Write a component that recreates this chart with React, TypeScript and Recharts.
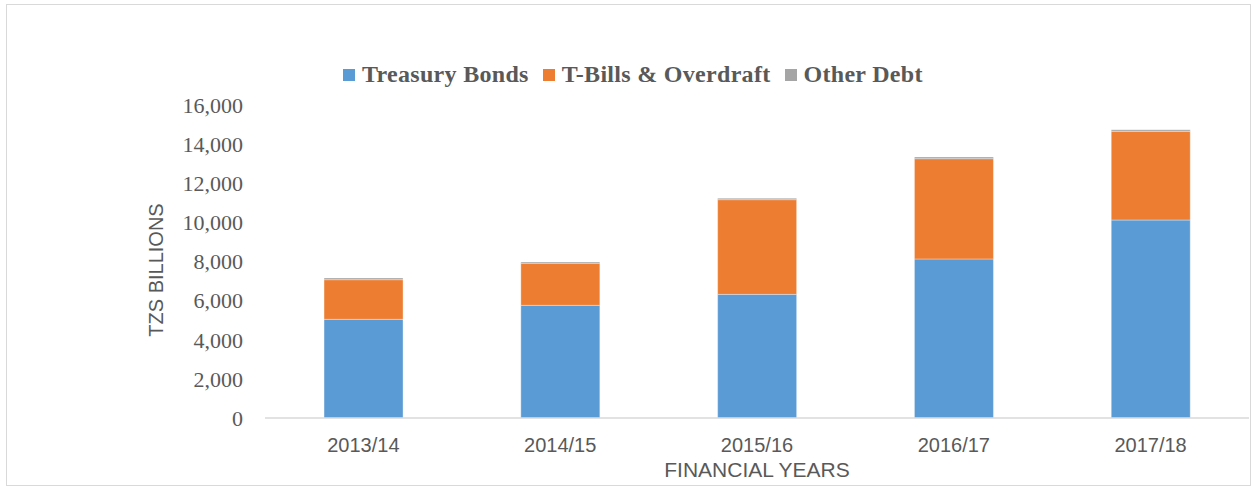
import React from "react";
import { BarChart, Bar, XAxis, YAxis, Label } from "recharts";

const years = ["2013/14", "2014/15", "2015/16", "2016/17", "2017/18"];
const treasuryBonds = [5045, 5760, 6320, 8130, 10120];
const tBillsOverdraft = [2025, 2150, 4840, 5125, 4535];
const otherDebt = [90, 70, 75, 90, 85];
const yTicks = [0, 2000, 4000, 6000, 8000, 10000, 12000, 14000, 16000];

const SERIES = [
  { key: "bonds", name: "Treasury Bonds", color: "#5B9BD5" },
  { key: "tbills", name: "T-Bills & Overdraft", color: "#ED7D31" },
  { key: "other", name: "Other Debt", color: "#A5A5A5" },
];

const data = years.map((year, i) => ({
  year,
  bonds: treasuryBonds[i],
  tbills: tBillsOverdraft[i],
  other: otherDebt[i],
}));

const TEXT = "#595959";
const SANS = "'Liberation Sans', Arial, sans-serif";
const SERIF = "'Liberation Serif', 'Times New Roman', serif";

const YTitle = () => (
  <text
    x={156}
    y={270}
    transform="rotate(-90 156 270)"
    textAnchor="middle"
    dominantBaseline="central"
    fill={TEXT}
    fontSize={20}
    fontFamily={SANS}
  >
    TZS BILLIONS
  </text>
);

const XTitle = () => (
  <text x={757} y={477} textAnchor="middle" fill={TEXT} fontSize={21} fontFamily={SANS}>
    FINANCIAL YEARS
  </text>
);

const LegendRow = () => (
  <div
    style={{
      position: "absolute",
      left: 343,
      top: 61,
      display: "flex",
      alignItems: "center",
      fontFamily: SERIF,
      fontWeight: "bold",
      fontSize: 24,
      letterSpacing: 0.3,
      color: TEXT,
      whiteSpace: "nowrap",
    }}
  >
    {SERIES.map((s) => (
      <div key={s.key} style={{ display: "flex", alignItems: "center", marginRight: 14 }}>
        <span style={{ width: 12, height: 12, background: s.color, marginRight: 7, display: "inline-block" }} />
        <span>{s.name}</span>
      </div>
    ))}
  </div>
);

export default function App() {
  return (
    <div style={{ position: "relative", width: 1253, height: 487, background: "#fff" }}>
      <style>{"body{margin:0}"}</style>
      <div
        style={{
          position: "absolute",
          left: 6,
          top: 4,
          width: 1245,
          height: 482,
          border: "1px solid #d9d9d9",
          boxSizing: "border-box",
        }}
      />
      <LegendRow />
      <div style={{ position: "absolute", left: 0, top: 0 }}>
        <BarChart width={1253} height={487} data={data} margin={{ top: 105, right: 4, left: 0, bottom: 9 }} barCategoryGap="30%">
          <XAxis
            dataKey="year"
            height={60}
            axisLine={{ stroke: "#d9d9d9", strokeWidth: 1.5 }}
            tickLine={false}
            tickSize={0}
            tickMargin={20}
            tick={{ fill: TEXT, fontSize: 20, fontFamily: SANS }}
          >
            <Label content={<XTitle />} />
          </XAxis>
          <YAxis
            width={265}
            domain={[0, 16000]}
            ticks={yTicks}
            axisLine={false}
            tickLine={false}
            tickSize={0}
            tickMargin={22}
            tickFormatter={(v: number) => v.toLocaleString("en-US")}
            tick={{ fill: TEXT, fontSize: 22, fontFamily: SERIF }}
          >
            <Label content={<YTitle />} />
          </YAxis>
          {SERIES.map((s) => (
            <Bar
              key={s.key}
              dataKey={s.key}
              name={s.name}
              stackId="debt"
              fill={s.color}
              stroke="#ffffff"
              strokeOpacity={0.35}
              strokeWidth={1}
              isAnimationActive={false}
            />
          ))}
        </BarChart>
      </div>
    </div>
  );
}
